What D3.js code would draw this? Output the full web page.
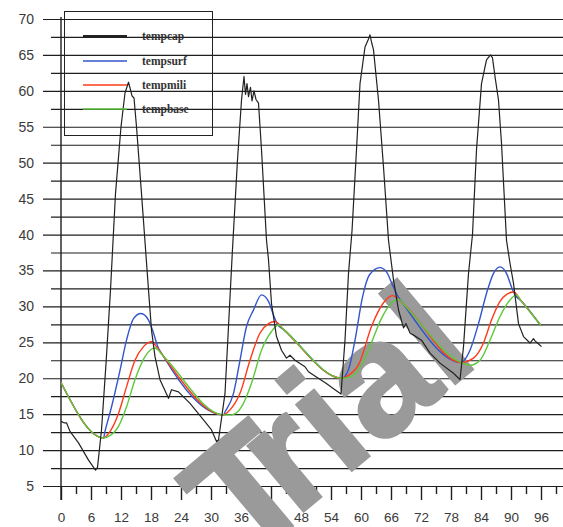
<!DOCTYPE html>
<html><head><meta charset="utf-8">
<script src="https://cdnjs.cloudflare.com/ajax/libs/d3/7.8.5/d3.min.js"></script>
<style>
html,body{margin:0;padding:0;background:#fff;}
svg{display:block;}
</style></head>
<body><div id="chart"></div>
<script>
// ---- data (hour, temperature) ----
const xTicks = [0,6,12,18,24,30,36,42,48,54,60,66,72,78,84,90,96];
const xMinorTicks = [3,9,15,21,27,33,39,45,51,57,63,69,75,81,87,93,99];
const yTicks = [5,10,15,20,25,30,35,40,45,50,55,60,65,70];
const yMinorTicks = [7.5,12.5,17.5,22.5,27.5,32.5,37.5,42.5,47.5,52.5,57.5,62.5,67.5];
const seriesNames = ["tempcap","tempsurf","tempmili","tempbase"];

const tempcap = [[0,14.0],[0.6,13.8],[1.1,13.8],[1.8,12.6],[3.5,11.0],[5.5,8.6],[6.9,7.2],[7.3,7.6],[8.1,12.8],[9.0,22.0],[9.9,32.3],[10.9,45.7],[12.0,55.0],[12.8,59.7],[13.5,61.2],[13.8,60.4],[14.2,59.3],[14.6,59.0],[15.1,55.0],[16.1,45.7],[17.5,32.3],[18.1,26.7],[18.8,23.0],[19.8,19.8],[21.5,17.2],[22.1,18.4],[23.5,18.1],[25.8,16.5],[28.5,14.2],[30.1,12.8],[31.1,11.2],[31.5,11.4],[32.8,17.9],[33.5,27.2],[34.3,38.0],[35.3,50.4],[36.1,58.7],[36.6,62.0],[36.9,59.5],[37.2,61.0],[37.5,59.2],[37.9,60.5],[38.2,58.6],[38.6,60.0],[39.0,58.8],[39.5,58.3],[40.1,51.8],[41.1,39.2],[41.5,36.5],[42.1,30.4],[43.1,25.8],[44.1,23.9],[45.1,22.8],[45.8,23.2],[46.8,22.5],[48.8,21.6],[49.5,20.9],[51.0,20.2],[53.0,19.3],[55.0,18.3],[56.0,17.8],[56.8,25.3],[57.5,34.6],[58.2,40.5],[59.1,51.8],[59.8,61.0],[60.8,66.1],[61.5,67.2],[61.8,67.8],[62.1,66.8],[62.5,65.7],[63.5,58.7],[64.5,49.4],[65.5,39.2],[66.5,33.7],[67.5,29.5],[68.5,27.0],[69.0,27.6],[69.8,26.3],[70.5,26.0],[72.1,25.3],[73.8,23.5],[75.8,22.1],[78.5,20.7],[79.8,19.8],[80.5,24.4],[81.5,34.6],[82.3,40.0],[83.1,51.8],[84.1,61.0],[85.1,64.3],[85.9,65.0],[86.3,64.6],[86.8,62.0],[87.5,58.7],[88.1,52.7],[89.1,39.2],[89.8,36.0],[90.5,33.2],[91.5,27.6],[92.5,25.8],[93.8,24.9],[94.5,25.5],[94.8,25.2],[95.3,24.9],[96.1,24.4]];

const tempsurf = [[0,19.4],[8.5,11.7],[8.8,12.6],[10.1,16.0],[11.8,21.1],[13.1,25.3],[14.5,28.3],[16.0,29.0],[17.5,28.1],[18.5,26.3],[19.3,24.5],[20.5,23.05],[32.5,14.9],[32.8,15.3],[34.5,17.9],[35.8,22.5],[37.1,27.2],[38.5,29.5],[40.1,31.6],[41.5,30.7],[42.5,28.8],[43.3,27.5],[44.5,26.8],[56.2,20.0],[57.5,21.2],[58.8,25.3],[60.3,31.3],[61.7,34.4],[63.8,35.4],[65.1,34.8],[66.3,33.0],[67.3,31.5],[68.5,30.3],[80.0,22.2],[80.5,22.4],[81.8,23.9],[83.5,27.6],[85.1,31.8],[86.5,34.6],[87.8,35.5],[89.1,34.6],[90.1,32.7],[90.8,31.6],[92.0,30.8],[96.0,27.3]];

const tempmili = [[0,19.4],[8.5,11.7],[9.5,12.3],[11.5,15.1],[13.1,18.8],[14.8,22.5],[16.5,24.4],[18.1,25.1],[19.2,24.3],[20.5,23.05],[32.5,14.9],[33.8,15.6],[35.8,17.9],[37.8,22.5],[39.8,26.3],[41.5,27.6],[42.8,27.9],[44.5,26.8],[56.2,20.0],[57.5,20.4],[59.6,22.0],[62.1,27.2],[64.5,30.5],[66.3,31.5],[68.5,30.3],[80.0,22.2],[82.5,22.8],[84.5,24.9],[86.1,28.1],[87.8,30.7],[89.2,31.7],[90.5,32.0],[92.0,30.8],[96.0,27.3]];

const tempbase = [[0,19.4],[8.5,11.7],[9.5,11.9],[11.5,13.3],[13.1,16.0],[14.8,19.8],[16.8,23.0],[18.0,24.0],[18.8,24.2],[20.5,23.05],[32.5,14.9],[34.1,14.9],[36.1,16.0],[38.1,19.3],[40.1,23.9],[42.1,26.5],[43.5,27.4],[44.5,26.8],[56.2,20.0],[58.0,20.2],[60.0,21.8],[62.0,24.8],[64.0,28.2],[66.0,30.4],[67.5,31.0],[68.5,30.3],[80.0,22.2],[81.8,21.8],[83.8,22.5],[85.8,25.3],[87.8,28.6],[89.8,30.9],[91.1,31.6],[92.0,30.8],[96.0,27.3]];

// ---- drawing ----
const W = 563, H = 527;
const svg = d3.select("#chart").append("svg").attr("width", W).attr("height", H);
const x = d3.scaleLinear().domain([0, 96]).range([61, 541]);
const y = d3.scaleLinear().domain([5, 70]).range([486, 19]);
const font = "'Liberation Sans', Arial, sans-serif";
const gridCol = "#1e1e1e";

const gy = svg.append("g").attr("transform", "translate(43,0)")
  .call(d3.axisLeft(y).tickValues(yTicks).tickSize(-(W - 43)).tickPadding(9).tickFormat(d3.format("d")));
gy.select(".domain").remove();
gy.selectAll("line").attr("stroke", gridCol).attr("stroke-width", 1.2);
gy.selectAll("text").attr("font-family", font).attr("font-size", 14).attr("fill", "#3a3a3a");

const gym = svg.append("g").attr("transform", "translate(51,0)")
  .call(d3.axisLeft(y).tickValues(yMinorTicks).tickSize(-(W - 51)).tickFormat(""));
gym.select(".domain").remove();
gym.selectAll("line").attr("stroke", gridCol).attr("stroke-width", 1.2);

const gx = svg.append("g").attr("transform", "translate(0," + y(5) + ")")
  .call(d3.axisBottom(x).tickValues(xTicks).tickSize(14).tickPadding(12).tickFormat(d3.format("d")));
gx.select(".domain").remove();
gx.selectAll("line").attr("stroke", gridCol).attr("stroke-width", 1.4);
gx.selectAll("text").attr("font-family", font).attr("font-size", 13.5).attr("fill", "#3a3a3a");

const gxm = svg.append("g").attr("transform", "translate(0," + y(5) + ")")
  .call(d3.axisBottom(x).tickValues(xMinorTicks).tickSize(8).tickFormat(""));
gxm.select(".domain").remove();
gxm.selectAll("line").attr("stroke", gridCol).attr("stroke-width", 1.4);

svg.append("line").attr("x1", x(0)).attr("x2", x(0)).attr("y1", y(70) - 2).attr("y2", y(5) + 14)
  .attr("stroke", gridCol).attr("stroke-width", 1.4);

// watermark
const wm = svg.append("text")
  .attr("transform", "translate(226,576) rotate(-40)")
  .attr("font-family", font).attr("font-weight", "bold").attr("font-size", 162)
  .attr("fill", "#9a9a9a").attr("stroke", "#9a9a9a").attr("stroke-width", 3)
  .attr("stroke-linejoin", "miter");
wm.append("tspan").attr("x", 22).attr("y", 4).text("T");
wm.append("tspan").attr("dx", -22).attr("dy", -4).text("rial");

// series
const colors = {tempcap: "#222222", tempsurf: "#3355cc", tempmili: "#ff3a1a", tempbase: "#5cc83a"};
const data = {tempcap, tempsurf, tempmili, tempbase};
const smooth = d3.line().x(d => x(d[0])).y(d => y(d[1])).curve(d3.curveMonotoneX);
const straight = d3.line().x(d => x(d[0])).y(d => y(d[1]));
["tempsurf", "tempmili", "tempbase"].forEach(n => {
  svg.append("path").datum(data[n]).attr("d", smooth).attr("fill", "none")
    .attr("stroke", colors[n]).attr("stroke-width", 1.4);
});
svg.append("path").datum(tempcap).attr("d", straight).attr("fill", "none")
  .attr("stroke", colors.tempcap).attr("stroke-width", 1.2).attr("stroke-linejoin", "round");

// legend
const lg = svg.append("g");
lg.append("rect").attr("x", 64.5).attr("y", 11.5).attr("width", 148).attr("height", 124)
  .attr("fill", "none").attr("stroke", "#222").attr("stroke-width", 1);
const legY = [36, 61, 85, 109];
seriesNames.forEach((n, i) => {
  lg.append("line").attr("x1", 83).attr("x2", 127).attr("y1", legY[i]).attr("y2", legY[i])
    .attr("stroke", colors[n]).attr("stroke-width", i === 0 ? 2 : 1.4);
  lg.append("text").text(n).attr("x", 142).attr("y", legY[i] + 3.5)
    .attr("font-family", "'Liberation Serif', 'Times New Roman', serif").attr("font-weight", "bold")
    .attr("font-size", 11.5).attr("fill", "#333");
});
</script>
</body></html>
